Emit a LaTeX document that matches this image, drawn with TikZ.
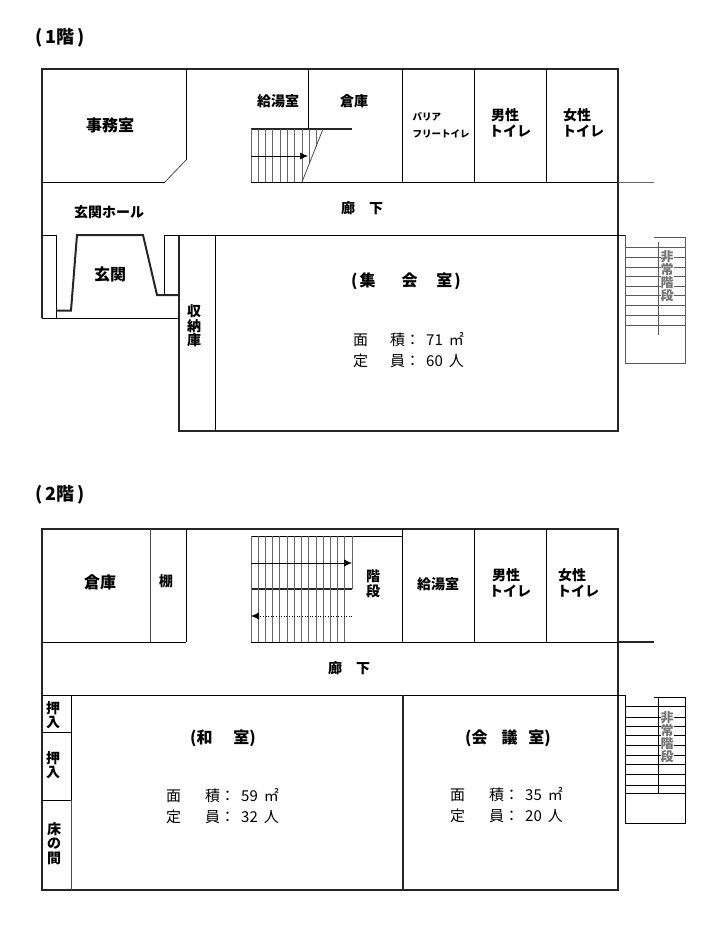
\documentclass[tikz,border=0pt]{standalone}
\usepackage{fontspec}
\setmainfont{Noto Sans CJK JP}
\usetikzlibrary{arrows.meta}
\tikzset{
  outerwall/.style={line width=2pt, black!85},
  wall/.style={line width=0.9pt, black},
  thinwall/.style={line width=0.8pt, black!70},
  stairline/.style={line width=0.7pt, black!60},
  fire/.style={line width=0.8pt, black!65},
  stairarrow/.style={line width=0.6pt, black, -{Latex[length=8pt,width=7pt]}},
  label/.style={inner sep=0pt, font=\bfseries\fontsize{14}{14.5}\selectfont, align=center},
  biglabel/.style={label, font=\bfseries\fontsize{16}{16}\selectfont},
  titlelabel/.style={label, font=\bfseries\fontsize{18}{18}\selectfont},
  smalllabel/.style={label, font=\bfseries\fontsize{9.5}{17}\selectfont, align=left},
  firelabel/.style={label, black!55, fill=white, font=\bfseries\fontsize{13}{13}\selectfont},
  spec/.style={inner sep=0pt, anchor=west, align=left, font=\fontsize{15}{21}\selectfont}
}
\begin{document}
\begin{tikzpicture}[x=1pt,y=-1pt]
\useasboundingbox (0,0) rectangle (712,952);
% 1F title
\node[titlelabel] (title1) at (60,38) {(\hspace{3pt}1階\hspace{3pt})};
% 1F walls
\draw[outerwall] (42,318) -- (42,69) -- (618,69) -- (618,431) -- (179,431) -- (179,235);
\draw[wall] (42,318) -- (179,318);
\draw[wall] (56,318) -- (56,235) -- (42,235);
\draw[outerwall] (56,310.5) -- (71,310.5) -- (77,235) -- (143,235) -- (157,295) -- (179,295);
\draw[wall] (164,295) -- (164,235) -- (618,235);
\draw[wall] (215,235) -- (215,431);
\draw[wall] (186,69) -- (186,160);
\draw[thinwall] (186,160) -- (165,182);
\draw[wall] (165,182) -- (42,182);
\draw[wall] (251,182) -- (618,182);
\draw[stairline] (618,182) -- (654,182);
\draw[wall] (308,69) -- (308,129);
\draw[outerwall] (251,129) -- (352,129);
\foreach \x in {402,474,546}
  \draw[wall] (\x,69) -- (\x,182);
% 1F stairs
\foreach \x in {251,258,265,272,280,287,294,302}
  \draw[stairline] (\x,129) -- (\x,182);
\draw[stairline] (309,129) -- (309,164);
\draw[stairline] (316,129) -- (316,147);
\draw[thinwall] (323,129) -- (302,182);
\draw[stairarrow] (251,156) -- (308,156);
% 1F fire stairs
\draw[wall] (618,235) -- (625.5,235);
\draw[fire] (625.5,235) -- (625.5,363) -- (685,363) -- (685,237) -- (654,237);
\foreach \y in {247,257,267,276,286,295,305,315,325}
  \draw[fire] (625.5,\y) -- (685,\y);
\draw[fire] (658.5,242) -- (658.5,335);
% 1F labels
\node[biglabel] (office) at (110,125) {事務室};
\node[label] (kitchen1) at (278,101) {給湯室};
\node[label] (store1) at (354,101) {倉庫};
\node[smalllabel] (barrier) at (441,125) {バリア\\フリートイレ};
\node[label] (men1) at (505,115) {男性};
\node[label] (menb1) at (510,131) {トイレ};
\node[label] (women1) at (577,115) {女性};
\node[label] (womenb1) at (583,131) {トイレ};
\node[label] (hall1) at (362,208) {廊\hspace{14pt}下};
\node[label] (lobby) at (109,212) {玄関ホール};
\node[biglabel] (entrance) at (110,274) {玄関};
\node[label] (closet) at (194,326) {収\\納\\庫};
\node[biglabel] (meeting) at (406,281) {(\hspace{2pt}集\hspace{26pt}会\hspace{19pt}室\hspace{2pt})};
\node[spec] (spec1) at (353,350.5) {面\hspace{22pt}積：\hspace{6pt}71\hspace{6pt}㎡\\定\hspace{22pt}員：\hspace{6pt}60\hspace{6pt}人};
\node[firelabel] (fire1) at (667,276) {非\\常\\階\\段};
% 2F title
\node[titlelabel] (title2) at (60,495) {(\hspace{3pt}2階\hspace{3pt})};
% 2F walls
\draw[outerwall] (42,695) -- (42,529) -- (618,529) -- (618,890) -- (42,890) -- (42,695);
\draw[wall] (42,642) -- (186,642);
\draw[wall] (251,642) -- (618,642);
\draw[outerwall] (618,642) -- (654,642);
\draw[wall] (42,695) -- (625.5,695);
\draw[thinwall] (150.5,529) -- (150.5,642);
\draw[wall] (186.5,529) -- (186.5,642);
\foreach \x in {402,474,546}
  \draw[wall] (\x,529) -- (\x,642);
\draw[outerwall] (403,695) -- (403,890);
\draw[wall] (71,695) -- (71,800);
\draw[thinwall] (71,800) -- (71,890);
\draw[wall] (42,732) -- (71,732);
\draw[wall] (42,800) -- (71,800);
% 2F stairs
\draw[wall] (251,536) -- (402,536);
\draw[outerwall] (251,589) -- (352,589);
\foreach \x in {251,258,265,272,279,287,294,301,308,316,323,330,337,344}
  \draw[stairline] (\x,536) -- (\x,642);
\draw[stairline] (352,536) -- (352,589);
\draw[stairarrow] (251,563) -- (352,563);
\draw[stairarrow, dotted] (352,616) -- (251,616);
% 2F fire stairs
\draw[wall] (625.5,695) -- (625.5,823) -- (685,823) -- (685,697) -- (654,697);
\foreach \y in {706,717,726,735,745,755,764,774,785,793}
  \draw[wall] (625.5,\y) -- (685,\y);
\draw[wall] (658.5,697) -- (658.5,793);
% 2F labels
\node[biglabel] (store2) at (100,582) {倉庫};
\node[label] (shelf) at (166,581) {棚};
\node[label] (stairs) at (373,584) {階\\段};
\node[label] (kitchen2) at (438,584) {給湯室};
\node[label] (men2) at (506,575) {男性};
\node[label] (menb2) at (510,591) {トイレ};
\node[label] (women2) at (572,575) {女性};
\node[label] (womenb2) at (578,591) {トイレ};
\node[label] (hall2) at (349,668) {廊\hspace{14pt}下};
\node[label] (oshi1) at (53,715) {押\\入};
\node[label] (oshi2) at (53,765) {押\\入};
\node[label] (toko) at (54,843.5) {床\\の\\間};
\node[biglabel] (washitsu) at (223,738) {(和\hspace{21pt}室)};
\node[spec] (spec2) at (166,806.5) {面\hspace{24pt}積：\hspace{6pt}59\hspace{6pt}㎡\\定\hspace{24pt}員：\hspace{6pt}32\hspace{6pt}人};
\node[biglabel] (kaigi) at (508,738) {(会\hspace{14pt}議\hspace{11pt}室)};
\node[spec] (spec3) at (450,805.5) {面\hspace{24pt}積：\hspace{6pt}35\hspace{6pt}㎡\\定\hspace{24pt}員：\hspace{6pt}20\hspace{6pt}人};
\node[firelabel] (fire2) at (667,737) {非\\常\\階\\段};
\end{tikzpicture}
\end{document}
